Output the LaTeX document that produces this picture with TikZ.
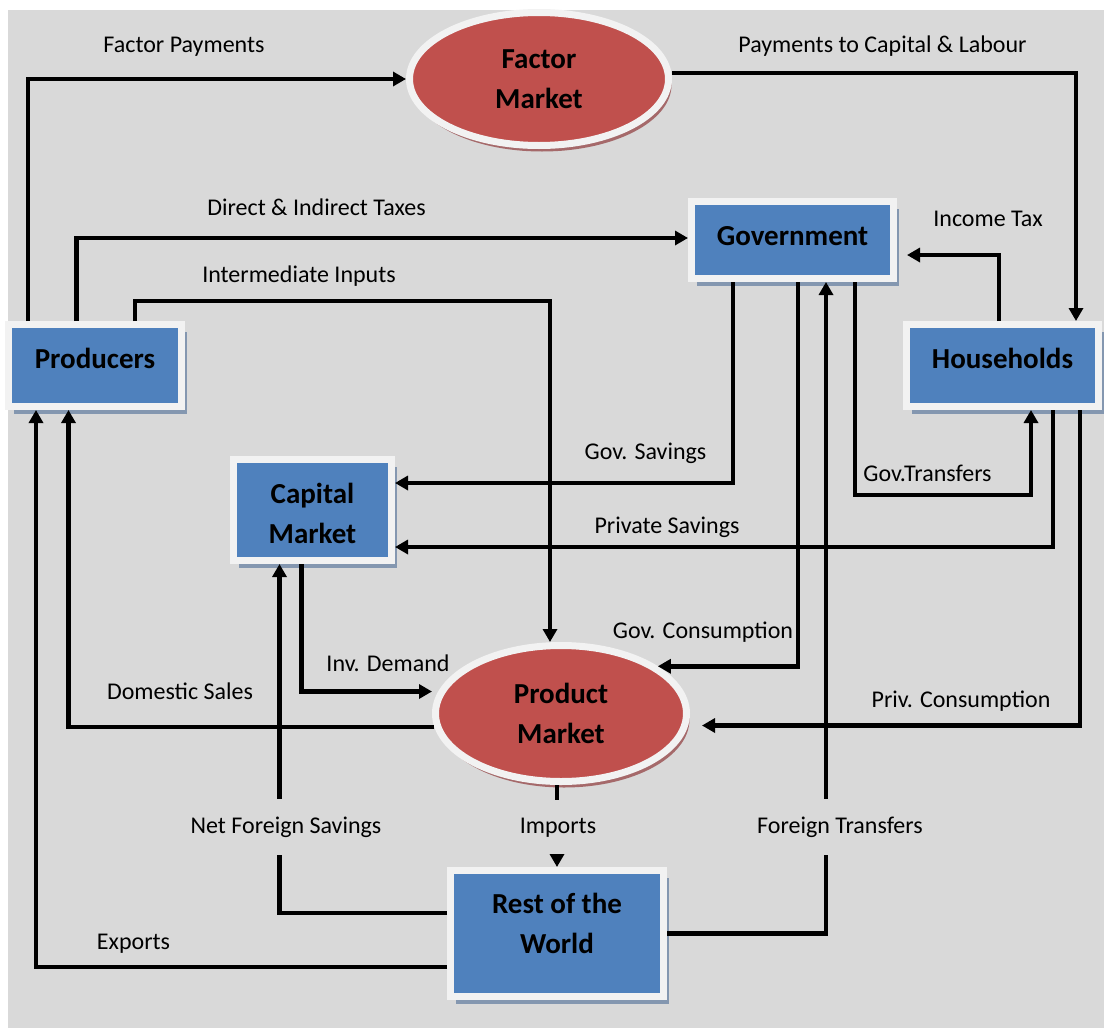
\documentclass[tikz,border=0pt]{standalone}
\usepackage{fontspec}
\setmainfont{Carlito}
\usetikzlibrary{arrows.meta,shapes.geometric,shadows}
\definecolor{bg}{HTML}{D9D9D9}
\definecolor{boxblue}{HTML}{4F81BD}
\definecolor{mktred}{HTML}{C0504D}
\definecolor{ring}{HTML}{F2F2F2}
\definecolor{boxshadow}{HTML}{8497B0}
\definecolor{ellshadow}{HTML}{A5696A}
\begin{document}
\begin{tikzpicture}[x=1pt,y=-1pt,
  boxnode/.style={rectangle, fill=boxblue, draw=ring, line width=7pt, inner sep=0pt,
     drop shadow={shadow xshift=5pt, shadow yshift=-7pt, fill=boxshadow, opacity=1}},
  mktnode/.style={ellipse, fill=mktred, draw=ring, line width=7pt, inner sep=0pt,
     drop shadow={shadow xshift=3pt, shadow yshift=-6pt, fill=ellshadow, opacity=1}},
  nodetext/.style={font=\bfseries\fontsize{29}{40}\selectfont, align=center, text=black, inner sep=0pt},
  lbl/.style={font=\fontsize{24}{28}\selectfont, anchor=base, inner sep=0pt},
  gaplbl/.style={lbl, fill=bg, inner xsep=3pt, inner ysep=17.5pt},
  conn/.style={line width=4.5pt, -{Triangle[length=13pt,width=14pt]}}
]
\useasboundingbox (0,0) rectangle (1104,1028);
\fill[white] (0,0) rectangle (1104,1028);
\fill[bg] (8,10) rectangle (1104,1028);

% nodes
\node[mktnode, minimum width=259pt, minimum height=133pt,
      label={[nodetext]center:Factor\\Market}] (fm) at (539,79) {};
\node[mktnode, minimum width=251pt, minimum height=136pt,
      label={[nodetext]center:Product\\Market}] (pm) at (561,713.5) {};
\node[boxnode, minimum width=173pt, minimum height=82pt,
      label={[nodetext,yshift=7pt]center:Producers}] (prod) at (95,365.5) {};
\node[boxnode, minimum width=192pt, minimum height=82pt,
      label={[nodetext,yshift=7pt]center:Households}] (hh) at (1002.5,365.5) {};
\node[boxnode, minimum width=202pt, minimum height=77pt,
      label={[nodetext,yshift=4pt]center:Government}] (gov) at (792.5,240) {};
\node[boxnode, minimum width=158pt, minimum height=101pt,
      label={[nodetext,yshift=-3pt]center:Capital\\Market}] (cap) at (312.5,510) {};
\node[boxnode, minimum width=213pt, minimum height=126pt,
      label={[nodetext,yshift=10pt]center:Rest of the\\World}] (row) at (557,933.5) {};

% connectors
\draw[conn] ([xshift=-67pt]prod.north) |- (fm.west);
\draw[conn] ([yshift=6pt]fm.east) -| ([xshift=73.5pt]hh.north);
\draw[conn] ([xshift=-18.5pt]prod.north) |- ([yshift=2pt]gov.west);
\draw[conn] ([xshift=40pt]prod.north) -- ++(0,-20) -| ([xshift=-11pt]pm.north);
\draw[conn] ([xshift=-3.5pt]hh.north) |- ([xshift=10pt,yshift=-15pt]gov.east);
\draw[conn] ([xshift=-59.5pt]gov.south) |- ([yshift=27pt]cap.east);
\draw[conn] ([xshift=5.5pt]gov.south) |- (pm.26);
\draw[conn] (row.east) -| ([xshift=33.5pt]gov.south);
\draw[conn] ([yshift=20.5pt]row.west) -| ([xshift=-33pt]cap.south);
\draw[conn] (row.north |- pm.south) -- (row.north);
\draw[conn] ([yshift=-33.5pt]row.west) -| ([xshift=-59pt]prod.south);
\draw[conn] (pm.186) -| ([xshift=-26.5pt]prod.south);
\draw[conn] ([xshift=-11pt]cap.south) |- ([yshift=22pt]pm.west);
\draw[conn] ([xshift=62.5pt]gov.south) -- ++(0,213) -| ([xshift=28.5pt]hh.south);
\draw[conn] ([xshift=50.5pt]hh.south) |- ([yshift=-37pt]cap.east);
\draw[conn] ([xshift=77.5pt]hh.south) |- ([xshift=12pt,yshift=-12pt]pm.east);

% labels
\node[lbl] (l1) at (184,52) {Factor Payments};
\node[lbl] (l2) at (882.5,52) {Payments to Capital \& Labour};
\node[lbl] (l3) at (316.5,215) {Direct \& Indirect Taxes};
\node[lbl] (l4) at (299,282) {Intermediate Inputs};
\node[lbl] (l5) at (988,226) {Income Tax};
\node[lbl] (l6) at (645.5,459) {Gov. Savings};
\node[lbl] (l7) at (927.5,481) {Gov.Transfers};
\node[lbl] (l8) at (667,533) {Private Savings};
\node[lbl] (l9) at (703,638) {Gov. Consumption};
\node[lbl] (l10) at (388,671) {Inv. Demand};
\node[lbl] (l11) at (180,699) {Domestic Sales};
\node[lbl] (l12) at (961,707) {Priv. Consumption};
\node[gaplbl] (l13) at (286,833) {Net Foreign Savings};
\node[gaplbl] (l14) at (558,833) {Imports};
\node[gaplbl] (l15) at (840,833) {Foreign Transfers};
\node[lbl] (l16) at (133.5,949) {Exports};
\end{tikzpicture}
\end{document}
